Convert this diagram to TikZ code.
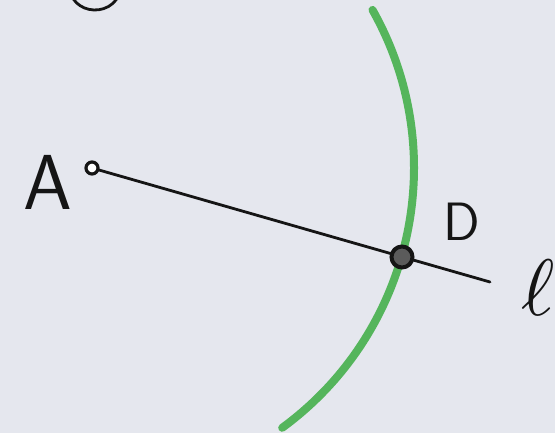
\documentclass[tikz,border=0pt]{standalone}
\usepackage{fontspec}
\usepackage{tikz}
\usetikzlibrary{positioning}
\definecolor{paper}{HTML}{E5E7EE}
\definecolor{crayon}{HTML}{55B55C}
\definecolor{ink}{HTML}{151515}

\begin{document}
\begin{tikzpicture}[
  x=1pt,y=-1pt,
  pt/.style={circle,draw=ink,fill=white,line width=3.2pt,inner sep=0pt,minimum size=12pt},
  bigpt/.style={circle,draw=ink,fill=ink!70,line width=4pt,inner sep=0pt,minimum size=21pt},
  lbl/.style={font=\fontsize{78}{78}\selectfont\sffamily,text=ink,inner sep=0pt},
  ln/.style={draw=ink,line width=2.8pt,line cap=round},
  compass/.style={draw=crayon,line width=8pt,line cap=round}
]
\useasboundingbox[fill=paper] (0,0) rectangle (555,433);
% points and end of the ray
\coordinate (A0) at (92,168);
\coordinate (lend) at (490,282);
\coordinate (cut) at (95,-12);
% green arc round A through D
\draw[compass] (A0) ++(-29.4:322) arc[start angle=-29.4,end angle=53.8,radius=322];
\draw[ln] (A0) -- (lend);
\node[pt] (A) at (A0) {};
\node[bigpt] (D) at (402,257) {};
% labels
\node[lbl] (Alab) at (48,182) {A};
\node[lbl,font=\fontsize{54}{54}\selectfont\sffamily] (Dlab) at (462,222) {D};
\node[text=ink,inner sep=0pt,scale=8] (llab) at (538,288) {$\ell$};
% leftover mark at the top edge
\draw[ln] (cut) ++(160:25 and 22) arc[start angle=160,end angle=20,x radius=25,y radius=22];
\end{tikzpicture}
\end{document}
